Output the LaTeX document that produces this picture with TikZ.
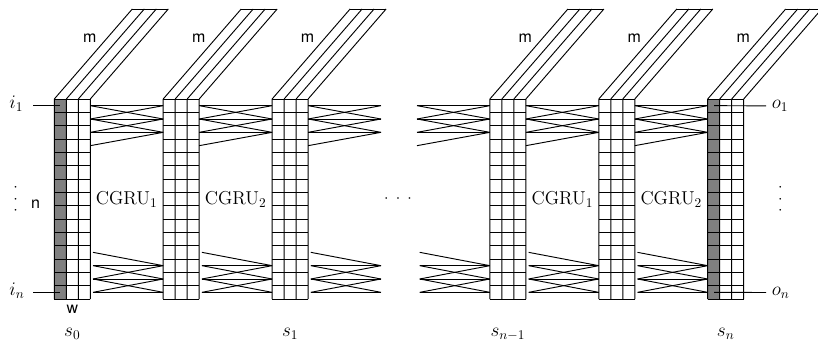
\documentclass[tikz,border=0pt]{standalone}
\usepackage{amsmath}
\usepackage{fontspec}
\setsansfont{TeX Gyre Heros}
\usepackage{xcolor}
\definecolor{statefill}{RGB}{128,128,128}

\newcommand{\rowy}[1]{99+(#1-0.5)*13.333}
\newcommand{\spreaddots}{$\cdotp\mkern5mu\cdotp\mkern5mu\cdotp$}

\begin{document}
\begin{tikzpicture}[x=0.75pt, y=-0.75pt, line width=0.7pt,
    dimlab/.style={font=\sffamily\fontsize{12}{14}\selectfont},
    mathlab/.style={font=\fontsize{14}{17}\selectfont}]
  \useasboundingbox (0,0) rectangle (818,340);
  \clip (0,0) rectangle (818,340);

  % state columns, slot 3 is left free for the dots
  \foreach \k/\nm/\fc in {0/s0/statefill,1/sa/white,2/s1/white,4/sn1/white,5/sb/white,6/sn/statefill} {
    \pgfmathsetmacro{\xl}{54.3+108.9*\k}
    \coordinate (\nm) at (\xl,99);
    \fill[\fc] (\nm) rectangle ++(12,200);
    \foreach \j in {0,...,3}
      \draw ({\xl+12*\j},99) -- ++(0,200) ({\xl+12*\j},99) -- ++(78,-90);
    \foreach \r in {0,...,15}
      \draw (\xl,{99+\r*13.333}) -- ++(36,0);
    \draw ({\xl+78},9) -- ++(36,0);
    \node[dimlab] (m-\nm) at ({\xl+35.5},38) {m};
  }

  % CGRU wiring between neighbouring columns
  \foreach \k in {0,...,5} {
    \pgfmathsetmacro{\xr}{90.3+108.9*\k}
    \foreach \a/\b in {1/1,2/1,1/2,2/2,3/2,2/3,3/3,4/3}
      \draw ({\xr},{\rowy{\a}}) -- ({\xr+72.9},{\rowy{\b}});
    \foreach \a/\b in {12/13,13/13,14/13,13/14,14/14,15/14,14/15,15/15}
      \draw ({\xr+2.7},{\rowy{\a}}) -- ({\xr+72.9},{\rowy{\b}});
  }

  \node[mathlab] (g1) at (126.7,199) {CGRU$_1$};
  \node[mathlab] (g2) at (235.6,199) {CGRU$_2$};
  \node[mathlab] (g3) at (562.4,199) {CGRU$_1$};
  \node[mathlab] (g4) at (671.3,199) {CGRU$_2$};
  \node[font=\fontsize{12.5}{15}\selectfont] (dots) at (398,199) {\spreaddots};

  % inputs
  \coordinate (i1in) at (60.3,{\rowy{1}});
  \coordinate (inin) at (60.3,{\rowy{15}});
  \coordinate (i1end) at (33.3,{\rowy{1}});
  \coordinate (inend) at (33.3,{\rowy{15}});
  \draw (i1end) -- (i1in);
  \draw (inend) -- (inin);
  \node[mathlab, anchor=mid west, inner sep=0pt] (i1) at (9,{\rowy{1}}) {$i_1$};
  \node[mathlab, anchor=mid west, inner sep=0pt] (in) at (9,{\rowy{15}}) {$i_n$};
  \node[font=\fontsize{12.5}{15}\selectfont, rotate=90] (vl) at (16,199) {\spreaddots};
  \node[dimlab] (n) at (35.5,204) {n};
  \node[dimlab] (w) at (72.5,309) {w};

  % outputs
  \coordinate (o1out) at (714,{\rowy{1}});
  \coordinate (onout) at (714,{\rowy{15}});
  \node[mathlab, anchor=mid west, inner sep=4pt] (o1) at (766,{\rowy{1}}) {$o_1$};
  \node[mathlab, anchor=mid west, inner sep=4pt] (on) at (766,{\rowy{15}}) {$o_n$};
  \draw (o1out) -- (o1.west);
  \draw (onout) -- (on.west);
  \node[font=\fontsize{12.5}{15}\selectfont, rotate=90] (vr) at (780.7,199) {\spreaddots};

  % state names
  \node[mathlab, anchor=base] (l-s0) at (72.3,336.5) {$s_0$};
  \node[mathlab, anchor=base] (l-s1) at (290.1,336.5) {$s_1$};
  \node[mathlab, anchor=base] (l-sn1) at (507.9,336.5) {$s_{n-1}$};
  \node[mathlab, anchor=base] (l-sn) at (725.7,336.5) {$s_n$};
\end{tikzpicture}
\end{document}
